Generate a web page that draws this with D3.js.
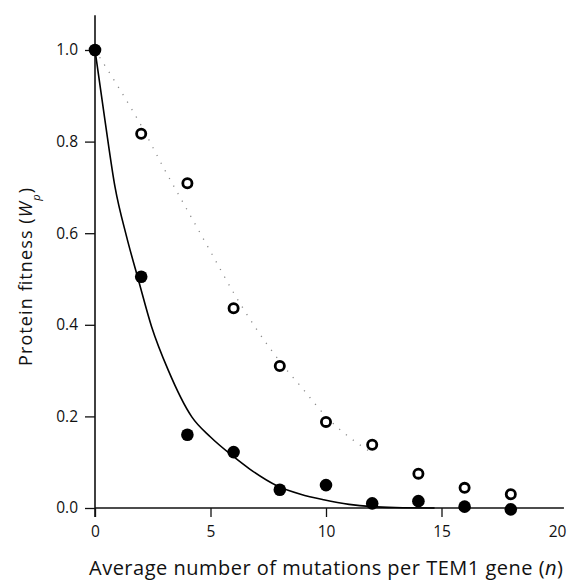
<!DOCTYPE html>
<html>
<head>
<meta charset="utf-8" />
<title>Protein fitness</title>
<script src="https://d3js.org/d3.v7.min.js"></script>
<style>
  body { margin: 0; background: #fff; }
  text { font-family: "Open Sans", Lato, sans-serif; fill: #111; }
  .tick text { font-size: 15.5px; }
  .fit { fill: none; stroke: #000; stroke-width: 1.6px; }
  .fit2 { fill: none; stroke: #8a8a8a; stroke-width: 1.3px; stroke-dasharray: 1.2, 7.5; }
</style>
</head>
<body>
<svg width="569" height="581"></svg>
<script>
// data
var nFilled = [0, 2, 4, 6, 8, 10, 12, 14, 16, 18];
var wFilled = [1.0, 0.505, 0.16, 0.122, 0.04, 0.05, 0.01, 0.015, 0.003, -0.003];

var nOpen = [2, 4, 6, 8, 10, 12, 14, 16, 18];
var wOpen = [0.817, 0.709, 0.436, 0.31, 0.188, 0.138, 0.075, 0.044, 0.03];

// solid fitted curve (filled points)
var fitN = [0, 0.43, 0.87, 1.37, 1.88, 2.45, 3.17, 4.19, 5.0, 6.0, 6.7, 7.9, 8.9, 9.9, 11.0, 12.0, 13.0, 14.7];
var fitW = [1.0, 0.847, 0.70, 0.592, 0.498, 0.396, 0.301, 0.199, 0.155, 0.112, 0.085, 0.048, 0.030, 0.018, 0.008, 0.003, 0.001, 0];

// dotted fitted curve (open points)
var dotN = [0, 1, 2, 3, 4, 5, 6, 7, 8, 9, 10, 11, 12];
var dotW = [1.0, 0.92, 0.835, 0.74, 0.65, 0.56, 0.47, 0.39, 0.32, 0.26, 0.2, 0.155, 0.12];

var xTicks = [0, 5, 10, 15, 20];
var yTicks = [0, 0.2, 0.4, 0.6, 0.8, 1.0];

var svg = d3.select("svg");

var x = d3.scaleLinear().domain([0, 20]).range([95, 557]);
var y = d3.scaleLinear().domain([0, 1]).range([508, 50]);

// axes
var gx = svg.append("g")
    .attr("transform", "translate(0," + y(0) + ")")
    .call(d3.axisBottom(x).tickValues(xTicks).tickFormat(d3.format("d")).tickSize(9).tickPadding(9));
gx.select(".domain").remove();
gx.selectAll(".tick").filter(function (d) { return d == 20; }).select("line").remove();

var gy = svg.append("g")
    .attr("transform", "translate(" + x(0) + ",0)")
    .call(d3.axisLeft(y).tickValues(yTicks).tickFormat(d3.format(".1f")).tickSize(10).tickPadding(7));
gy.select(".domain").remove();

svg.selectAll(".tick line").attr("stroke", "#111").attr("stroke-width", 1.3);

// axis lines, y axis reaches above 1.0 and below 0
svg.append("line")
    .attr("x1", x(0)).attr("x2", x(0))
    .attr("y1", y(1.076)).attr("y2", y(0) + 9)
    .attr("stroke", "#111").attr("stroke-width", 1.6);
svg.append("line")
    .attr("x1", x(0)).attr("x2", x(20.3))
    .attr("y1", y(0)).attr("y2", y(0))
    .attr("stroke", "#111").attr("stroke-width", 1.4);

// fits
var line = d3.line()
    .x(function (d) { return x(d[0]); })
    .y(function (d) { return y(d[1]); })
    .curve(d3.curveMonotoneX);

svg.append("path")
    .datum(d3.zip(dotN, dotW))
    .attr("class", "fit2")
    .attr("d", line);

svg.append("path")
    .datum(d3.zip(fitN, fitW))
    .attr("class", "fit")
    .attr("d", line);

// points
svg.selectAll(".open")
    .data(d3.zip(nOpen, wOpen))
    .enter().append("circle")
    .attr("class", "open")
    .attr("cx", function (d) { return x(d[0]); })
    .attr("cy", function (d) { return y(d[1]); })
    .attr("r", 4.6)
    .attr("fill", "#fff")
    .attr("stroke", "#000")
    .attr("stroke-width", 2.8);

svg.selectAll(".filled")
    .data(d3.zip(nFilled, wFilled))
    .enter().append("circle")
    .attr("class", "filled")
    .attr("cx", function (d) { return x(d[0]); })
    .attr("cy", function (d) { return y(d[1]); })
    .attr("r", 6.3)
    .attr("fill", "#000");

// titles
var xt = svg.append("text")
    .attr("x", 326)
    .attr("y", 575)
    .attr("text-anchor", "middle")
    .attr("textLength", 474)
    .attr("lengthAdjust", "spacing")
    .style("font-size", "20px");
xt.append("tspan").text("Average number of mutations per TEM1 gene (");
xt.append("tspan").style("font-style", "italic").text("n");
xt.append("tspan").text(")");

var yt = svg.append("text")
    .attr("transform", "translate(32,277) rotate(-90)")
    .attr("text-anchor", "middle")
    .attr("textLength", 178)
    .attr("lengthAdjust", "spacing")
    .style("font-size", "18px");
yt.append("tspan").text("Protein fitness (");
yt.append("tspan").style("font-style", "italic").text("W");
yt.append("tspan").attr("baseline-shift", "sub").style("font-size", "11px").style("font-style", "italic").text("p");
yt.append("tspan").text(")");
</script>
</body>
</html>
